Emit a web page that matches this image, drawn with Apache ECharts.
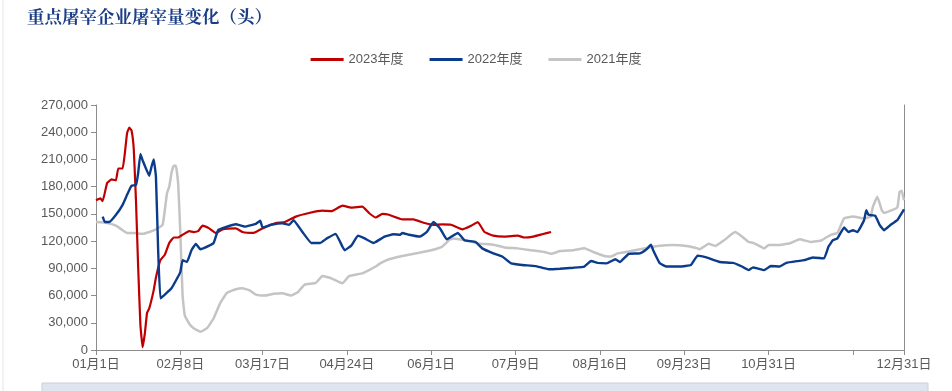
<!DOCTYPE html>
<html><head><meta charset="utf-8">
<script src="https://cdn.jsdelivr.net/npm/echarts@6/dist/echarts.min.js"></script>
<style>html,body{margin:0;padding:0;background:#fff}#c{width:952px;height:391px}</style>
</head><body><div id="c"></div>
<script>
const titleText = '重点屠宰企业屠宰量变化（头）';
const seriesNames = ['2023年度', '2022年度', '2021年度'];
const yTicks = [0, 30000, 60000, 90000, 120000, 150000, 180000, 210000, 240000, 270000];
const tickDays = [0, 38, 75, 113, 151, 189, 227, 265, 303, 341, 364];
const labelDays = [0, 38, 75, 113, 151, 189, 227, 265, 303, 364];

// day-of-year (0 = Jan 1) and values
const days2023 = [0,2,3,5,7,9,10,12,13,14,15,16,17,18,19,20,21,22,23,24,26,27,29,31,33,35,37,39,42,44,46,48,51,54,57,63,66,71,75,81,85,90,96,102,106,111,115,120,123,126,129,132,138,143,148,152,156,160,165,169,172,175,179,184,190,193,197,201,205];
const vals2023 = [165000,167000,164000,184000,188000,187000,200000,200000,217000,239000,245000,242000,222000,165000,91000,28000,3000,18000,41000,46000,66000,80000,99000,105000,118000,124000,124000,127000,131000,130000,131000,137000,134000,129000,133000,134000,130000,129000,134000,140000,141000,147000,151000,153500,153000,159000,157000,158000,151000,146000,150000,149000,144000,144000,140000,138000,138500,138000,133000,137000,141000,130000,126000,125000,126000,124000,125000,127500,130000];

const days2022 = [3,4,6,9,12,14,16,18,19,20,21,24,25,26,27,28,29,31,34,37,38,39,41,43,45,47,51,53,55,58,63,67,72,74,75,79,84,87,89,93,97,101,104,108,111,112,115,118,121,125,126,130,134,137,138,141,146,149,152,155,158,163,166,171,174,179,183,187,192,198,204,209,215,220,223,226,230,234,236,240,245,248,250,251,254,257,263,268,271,275,281,287,291,294,296,298,301,304,308,311,316,319,323,328,330,332,334,337,339,341,343,346,347,348,351,353,355,358,361,362,364];
const vals2022 = [147000,141000,141000,149000,160000,171000,181000,182000,195000,216000,209000,192000,202000,210000,191000,110000,57000,61000,68000,81000,86000,99000,97000,110000,117000,111000,115000,118000,132000,135000,138500,136000,139000,142500,135000,138000,139600,138000,143000,130000,118000,118000,123000,128000,114000,110000,115000,126000,123000,118000,119000,125000,127500,127000,129000,127000,125000,130000,141000,134000,122000,129000,121000,119000,112000,106500,103000,95500,93700,92500,89000,89600,90700,92000,98000,96000,95500,100000,97000,106000,106500,111000,116000,110000,95500,92000,92000,93700,104000,102000,97000,96000,92000,88000,91000,90000,88000,92500,92000,96000,98000,99000,102000,101000,114000,121000,123000,135000,130000,132000,130000,143000,154000,149000,148000,138000,132000,138000,143000,147000,155000];

const days2021 = [0,5,9,12,14,17,21,24,27,30,31,32,33,34,35,36,37,38,39,40,42,44,47,50,53,56,59,63,66,69,72,76,80,84,88,91,94,99,102,106,111,114,120,123,126,128,132,138,145,151,156,159,161,166,172,179,184,190,196,202,205,209,215,220,224,229,232,235,241,247,253,260,266,271,272,276,279,283,286,288,291,294,296,299,301,303,308,313,317,322,327,331,334,337,341,346,349,350,352,354,355,358,361,362,363,364];
const vals2021 = [141000,140000,137000,132000,129000,129000,128000,130000,133000,138000,154000,173000,180000,195000,203000,203000,184000,129000,60000,38000,29000,24000,20000,24000,35000,52000,63000,67000,68000,66000,61000,60000,62000,62500,60000,64000,72000,74000,81500,79000,73500,81500,84500,88000,92000,95500,100000,103600,107000,110000,114000,121000,123000,121000,117500,116000,113000,112000,110000,108000,106000,109000,110000,112000,108000,103600,103000,106500,109000,112000,114600,115700,114600,112000,111000,117000,114600,121000,127000,130000,125000,119000,118000,114600,112000,115700,115700,118000,122000,119000,121000,127000,129000,145000,147000,145000,147000,158000,169000,154000,151000,153500,157000,174000,175600,165000];

const monthDays = [31,28,31,30,31,30,31,31,30,31,30,31];
function dayLabel(d) {
  let m = 0, r = Math.round(d);
  while (r >= monthDays[m]) { r -= monthDays[m]; m++; }
  return String(m + 1).padStart(2, '0') + '月' + (r + 1) + '日';
}
function pairs(ds, vs) { return ds.map((d, i) => [d, vs[i]]); }

const colors = ['#C00000', '#0B3C8C', '#C4C4C4'];
const chart = echarts.init(document.getElementById('c'), null, {renderer: 'canvas'});
const axisColor = '#8C8C8C';
const font = "'Liberation Sans', Arial, 'Noto Sans CJK SC', sans-serif";
chart.setOption({
  animation: false,
  backgroundColor: '#fff',
  title: {
    text: titleText, left: 22, top: 3,
    textStyle: {color: '#1A3E86', fontSize: 17.5, fontWeight: 'bold', fontFamily: "'Noto Serif CJK SC', 'Noto Sans CJK SC', serif"}
  },
  legend: {
    data: seriesNames, top: 48, left: 'center', icon: 'rect', itemWidth: 33, itemHeight: 3, itemGap: 26,
    textStyle: {color: '#595959', fontSize: 13, fontFamily: font}
  },
  grid: {left: 96, right: 48, top: 105, bottom: 41, containLabel: false},
  xAxis: {
    type: 'value', min: 0, max: 364,
    axisLine: {show: true, lineStyle: {color: axisColor, width: 1}},
    axisTick: {show: true, length: 5, lineStyle: {color: axisColor}, customValues: tickDays},
    axisLabel: {customValues: labelDays, formatter: v => dayLabel(v), color: '#595959', fontSize: 13, fontFamily: font, margin: 8},
    splitLine: {show: false}
  },
  yAxis: [{
    type: 'value', min: 0, max: 270000, interval: 30000,
    axisLine: {show: true, lineStyle: {color: axisColor, width: 1}},
    axisTick: {show: true, length: 5, lineStyle: {color: axisColor}},
    axisLabel: {formatter: v => v.toLocaleString('en-US'), color: '#595959', fontSize: 13, fontFamily: font, margin: 8},
    splitLine: {show: false}
  }, {
    type: 'value', min: 0, max: 270000, position: 'right',
    axisLine: {show: true, lineStyle: {color: axisColor, width: 1}},
    axisTick: {show: false}, axisLabel: {show: false}, splitLine: {show: false}
  }],
  series: [
    {name: seriesNames[2], type: 'line', data: pairs(days2021, vals2021), showSymbol: false, smooth: 0.1, lineStyle: {width: 2.5, color: colors[2]}, itemStyle: {color: colors[2]}},
    {name: seriesNames[0], type: 'line', data: pairs(days2023, vals2023), showSymbol: false, smooth: 0.1, lineStyle: {width: 2.2, color: colors[0]}, itemStyle: {color: colors[0]}},
    {name: seriesNames[1], type: 'line', data: pairs(days2022, vals2022), showSymbol: false, smooth: 0.1, lineStyle: {width: 2.4, color: colors[1]}, itemStyle: {color: colors[1]}}
  ],
  graphic: [
    {type: 'line', shape: {x1: 3, y1: 0, x2: 3, y2: 391}, style: {stroke: '#E6E6E6', lineWidth: 1}, silent: true},
    {type: 'rect', shape: {x: 42, y: 383, width: 886, height: 12}, style: {fill: '#DFE5EE', stroke: '#C9D0DB', lineWidth: 1}, silent: true}
  ]
});
</script></body></html>
